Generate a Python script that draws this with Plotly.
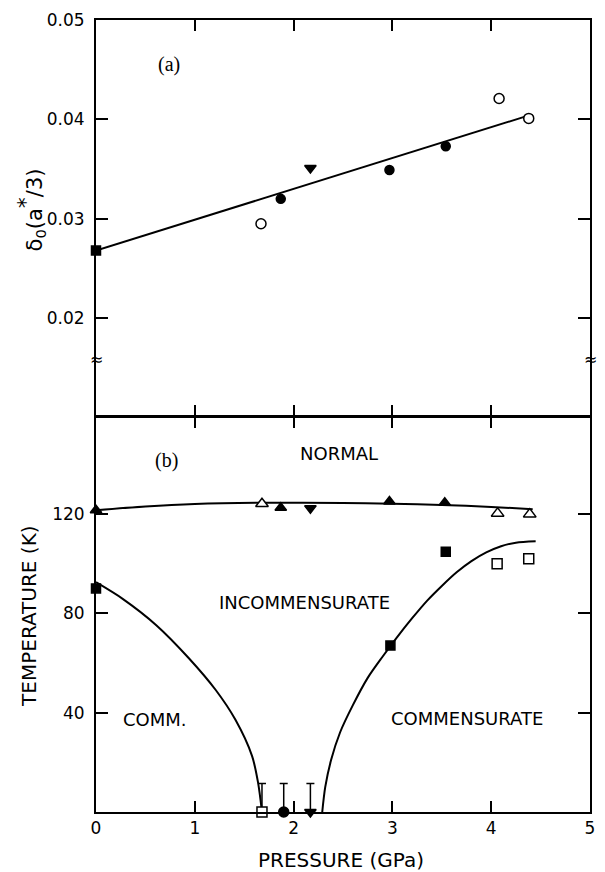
import plotly.graph_objects as go

# ---------------- data: panel (a) ----------------
a_fsq_x = [0.0]
a_fsq_y = [0.0268]
a_ocirc_x = [1.67, 4.08, 4.38]
a_ocirc_y = [0.0295, 0.0421, 0.0401]
a_fcirc_x = [1.87, 2.97, 3.54]
a_fcirc_y = [0.0320, 0.0349, 0.0373]
a_dtri_x = [2.17]
a_dtri_y = [0.0351]
a_fit_x = [0.0, 4.35]
a_fit_y = [0.0268, 0.0403]

# ---------------- data: panel (b) ----------------
b_ftri_x = [0.0, 1.87, 2.97, 3.53]
b_ftri_y = [121.5, 122.5, 125.0, 124.5]
b_otri_x = [1.68, 4.065, 4.39]
b_otri_y = [124.1, 120.2, 119.9]
b_dtri_x = [2.17]
b_dtri_y = [122.3]
b_fsq_x = [0.0, 2.98, 3.54]
b_fsq_y = [90.0, 67.0, 104.8]
b_osq_x = [4.06, 4.38]
b_osq_y = [99.9, 101.9]
# points at T = 0 with one-sided error bars
b_zero_x = [1.68, 1.90, 2.17]
b_zero_y = [0.0, 0.0, 0.0]
b_zero_err = [11.5, 11.5, 11.5]
b_zero_sym = ["square", "circle", "triangle-down"]
b_zero_col = ["white", "black", "black"]

# phase boundaries
nc_x = [0.0, 0.5, 1.0, 1.7, 2.5, 3.0, 3.5, 4.0, 4.42]
nc_y = [121.5, 123.0, 124.0, 124.5, 124.4, 124.1, 123.6, 122.8, 121.9]
left_x = [0.0, 0.27, 0.61, 0.94, 1.21, 1.41, 1.58, 1.64, 1.68]
left_y = [92.5, 85.8, 75.2, 61.9, 49.2, 37.2, 22.5, 11.9, 0.0]
right_x = [2.29, 2.32, 2.38, 2.47, 2.6, 2.75, 2.9, 3.05, 3.2, 3.35, 3.5, 3.65, 3.8, 3.95, 4.1, 4.25, 4.45]
right_y = [0.0, 10.0, 21.0, 32.0, 43.0, 54.0, 62.5, 70.5, 78.0, 85.0, 91.0, 96.5, 101.0, 104.5, 107.0, 108.4, 109.0]

x_ticks = [0, 1, 2, 3, 4, 5]
a_ticks = [0.02, 0.03, 0.04, 0.05]
a_ticktext = ["0.02", "0.03", "0.04", "0.05"]
b_ticks = [40, 80, 120]

FONT = "DejaVu Sans"
LW = 2

W, H = 605, 872
ML, MR, MT, MB = 96, 10, 15, 60
PW, PH = W - ML - MR, H - MT - MB

fig = go.Figure()

def mk(x, y, sym, fill, size, xa, ya):
    fig.add_trace(go.Scatter(x=x, y=y, mode="markers", xaxis=xa, yaxis=ya,
                             cliponaxis=False, showlegend=False,
                             marker=dict(symbol=sym, color=fill, size=size,
                                         line=dict(color="black", width=1.5))))

# panel (a)
fig.add_trace(go.Scatter(x=a_fit_x, y=a_fit_y, mode="lines", xaxis="x", yaxis="y",
                         line=dict(color="black", width=LW), showlegend=False))
mk(a_fsq_x, a_fsq_y, "square", "black", 9, "x", "y")
mk(a_ocirc_x, a_ocirc_y, "circle", "white", 10, "x", "y")
mk(a_fcirc_x, a_fcirc_y, "circle", "black", 9, "x", "y")
mk(a_dtri_x, a_dtri_y, "triangle-down", "black", 10, "x", "y")

# panel (b)
for cx, cy in [(nc_x, nc_y), (left_x, left_y), (right_x, right_y)]:
    fig.add_trace(go.Scatter(x=cx, y=cy, mode="lines", xaxis="x2", yaxis="y2",
                             line=dict(color="black", width=LW, shape="spline", smoothing=0.8),
                             showlegend=False, cliponaxis=False))
fig.add_trace(go.Scatter(x=b_zero_x, y=b_zero_y, mode="markers", xaxis="x2", yaxis="y2",
                         cliponaxis=False, showlegend=False,
                         error_y=dict(type="data", symmetric=False, array=b_zero_err,
                                      arrayminus=[0, 0, 0], color="black", thickness=1.5, width=4),
                         marker=dict(symbol=b_zero_sym, color=b_zero_col, size=10,
                                     line=dict(color="black", width=1.5))))
mk(b_ftri_x, b_ftri_y, "triangle-up", "black", 10, "x2", "y2")
mk(b_otri_x, b_otri_y, "triangle-up", "white", 11, "x2", "y2")
mk(b_dtri_x, b_dtri_y, "triangle-down", "black", 10, "x2", "y2")
mk(b_fsq_x, b_fsq_y, "square", "black", 9, "x2", "y2")
mk(b_osq_x, b_osq_y, "square", "white", 10, "x2", "y2")

axis_common = dict(showline=True, linecolor="black", linewidth=LW, mirror="allticks",
                   ticks="inside", tickcolor="black", tickwidth=1.5, showgrid=False,
                   zeroline=False, tickfont=dict(family=FONT, size=17, color="black"))

split = (812 - 415) / PH
fig.update_layout(
    width=W, height=H, autosize=False,
    margin=dict(l=ML, r=MR, t=MT, b=MB),
    paper_bgcolor="white", plot_bgcolor="white",
    xaxis=dict(domain=[0, 1], anchor="y", range=[0, 5], tickvals=x_ticks,
               showticklabels=False, ticklen=11, **axis_common),
    yaxis=dict(domain=[split + LW / PH, 1], anchor="x", range=[0.0102, 0.05], tickvals=a_ticks,
               ticktext=a_ticktext, ticklen=12, ticklabelstandoff=6, **axis_common),
    xaxis2=dict(domain=[0, 1], anchor="y2", range=[0, 5], tickvals=x_ticks,
                ticklen=11, matches="x", **axis_common),
    yaxis2=dict(domain=[0, split], anchor="x2", range=[0, 158.8], tickvals=b_ticks,
                ticklen=12, ticklabelstandoff=6, **axis_common),
)

ann = []
def txt(x, y, s, xref, yref, size=18, family=FONT, angle=0):
    ann.append(dict(x=x, y=y, text=s, xref=xref, yref=yref, showarrow=False,
                    textangle=angle, font=dict(family=family, size=size, color="black"),
                    xanchor="center", yanchor="middle"))

def px(xp, yp):
    return (xp - ML) / PW, (H - MB - yp) / PH

txt(0.74, 0.0455, "(a)", "x", "y", size=20, family="Liberation Serif")
txt(0.71, 141.5, "(b)", "x2", "y2", size=20, family="Liberation Serif")
txt(2.46, 144.4, "NORMAL", "x2", "y2")
txt(2.11, 84.5, "INCOMMENSURATE", "x2", "y2")
txt(0.6, 37.2, "COMM.", "x2", "y2")
txt(3.75, 37.6, "COMMENSURATE", "x2", "y2")
# break marks on the top panel's vertical axes
txt(0, 0.0158, "≈", "x", "y", size=16)
txt(5, 0.0158, "≈", "x", "y", size=16)
# axis titles
x0, y0 = px(30, 206)
txt(x0, y0, "δ<sub>0</sub>(a<sup><span style='font-size:22px'>*</span></sup>/3)",
    "paper", "paper", size=21, angle=-90)
x0, y0 = px(29, 615)
txt(x0, y0, "TEMPERATURE (K)", "paper", "paper", size=20, angle=-90)
x0, y0 = px(343, 860)
txt(x0, y0, "PRESSURE (GPa)", "paper", "paper", size=20)

fig.update_layout(annotations=ann)
fig.write_html("out.html")
